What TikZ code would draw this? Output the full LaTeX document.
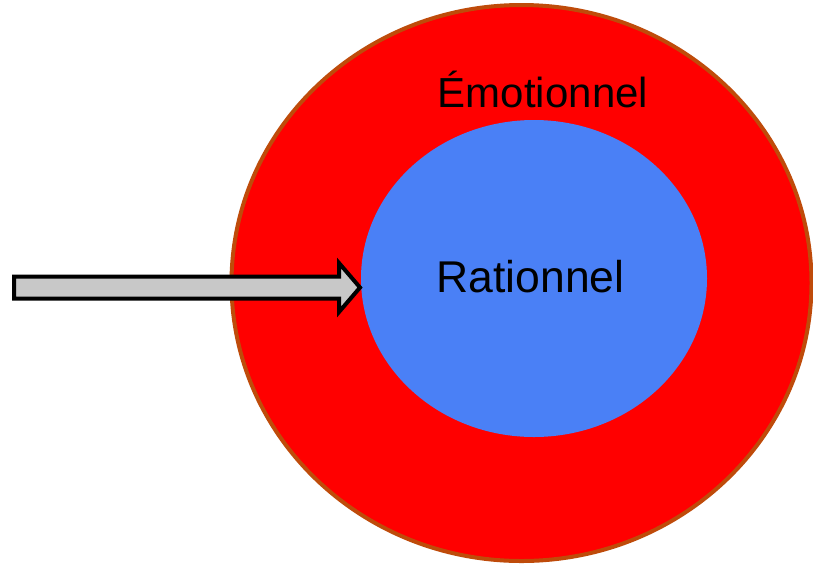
\documentclass[tikz,border=0pt]{standalone}
\usepackage{fontspec}
\setmainfont{Liberation Sans}
\usetikzlibrary{shapes.geometric}
\definecolor{outerred}{HTML}{FF0000}
\definecolor{rim}{HTML}{BF4B0A}
\definecolor{innerblue}{HTML}{4A80F6}
\definecolor{arrowgray}{HTML}{C8C8C8}
\begin{document}
\begin{tikzpicture}[x=1pt,y=-1pt,
  bigellipse/.style={ellipse, fill=outerred, draw=rim, line width=4pt, inner sep=0pt, minimum width=580pt, minimum height=556pt},
  smallellipse/.style={ellipse, fill=innerblue, draw=none, inner sep=0pt, minimum width=346pt, minimum height=317pt},
  label/.style={anchor=base, text=black, inner sep=0pt},
  blockarrow/.style={draw=black, fill=arrowgray, line width=4pt, miter limit=10}]
\useasboundingbox (0,0) rectangle (813,566);
\node[bigellipse] (outer) at (521.5,283) {};
\node[smallellipse] (inner) at (534,278.5) {};
\node[label, font=\fontsize{42}{50}\selectfont] (emo) at (543,107) {Émotionnel};
\node[label, font=\fontsize{44.5}{53}\selectfont] (rat) at (530.5,292.5) {Rationnel};
\coordinate (tip) at (360,287.5);
\draw[blockarrow] (14,276.5) -- (339,276.5) -- (339,263) -- (tip) -- (339,312) -- (339,298.5) -- (14,298.5) -- cycle;
\end{tikzpicture}
\end{document}
